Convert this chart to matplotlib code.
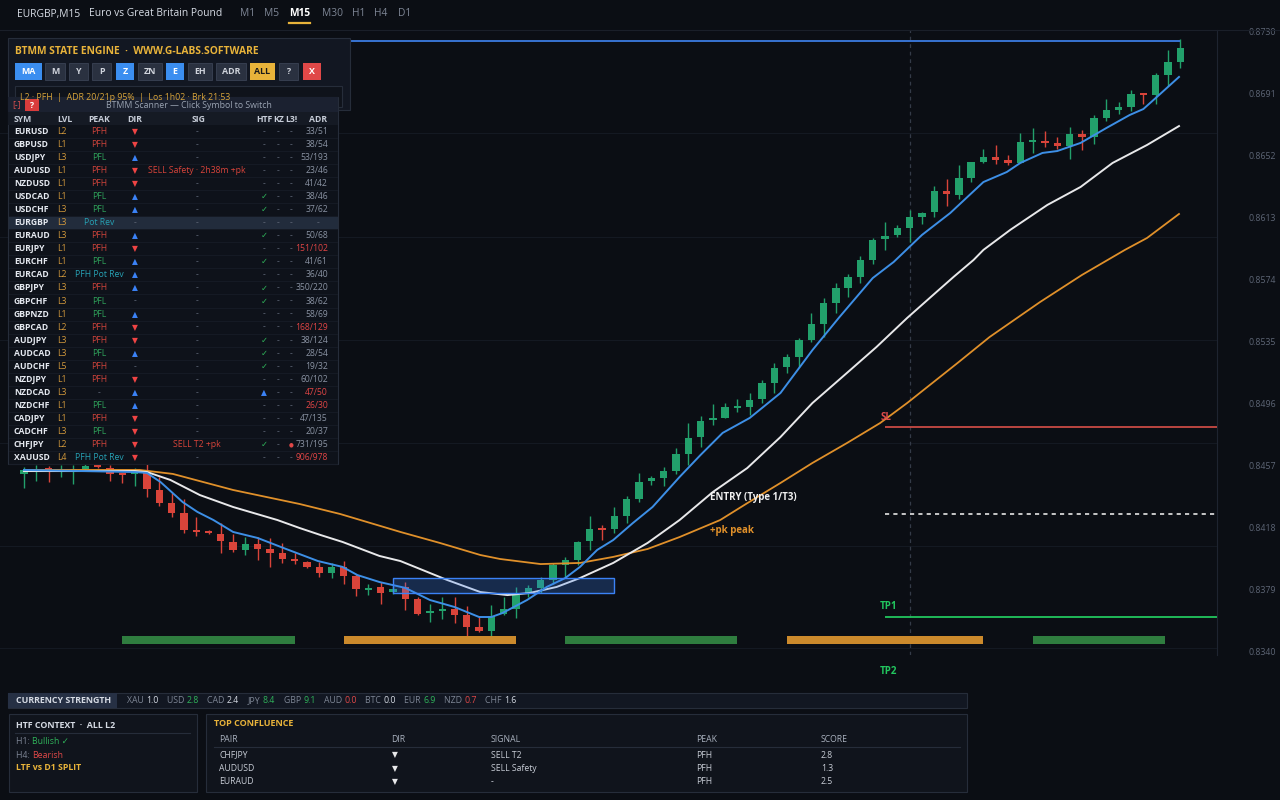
import matplotlib.pyplot as plt
from matplotlib.patches import Rectangle

plt.rcParams['font.family'] = ['Open Sans', 'DejaVu Sans']

# ---- price data (EURGBP M15), one value per candle ----
opens = [0.84514, 0.84532, 0.84551, 0.84526, 0.84532, 0.84545, 0.84564, 0.84551, 0.84514, 0.84514,
         0.84520, 0.84413, 0.84331, 0.84268, 0.84161, 0.84155, 0.84136, 0.84086, 0.84036, 0.84073,
         0.84042, 0.84017, 0.83979, 0.83960, 0.83929, 0.83891, 0.83929, 0.83872, 0.83784, 0.83803,
         0.83771, 0.83803, 0.83727, 0.83639, 0.83652, 0.83664, 0.83627, 0.83551, 0.83526, 0.83633,
         0.83664, 0.83765, 0.83797, 0.83847, 0.83941, 0.83973, 0.84092, 0.84168, 0.84168, 0.84249,
         0.84356, 0.84470, 0.84488, 0.84532, 0.84639, 0.84746, 0.84853, 0.84866, 0.84929, 0.84935,
         0.84985, 0.85086, 0.85187, 0.85250, 0.85356, 0.85457, 0.85589, 0.85684, 0.85753, 0.85860,
         0.85992, 0.86017, 0.86061, 0.86130, 0.86162, 0.86294, 0.86268, 0.86375, 0.86476, 0.86508,
         0.86489, 0.86470, 0.86602, 0.86608, 0.86596, 0.86577, 0.86652, 0.86633, 0.86753, 0.86803,
         0.86822, 0.86910, 0.86897, 0.87023, 0.87105]
highs = [0.84558, 0.84570, 0.84564, 0.84570, 0.84570, 0.84576, 0.84576, 0.84570, 0.84520, 0.84551,
         0.84583, 0.84495, 0.84394, 0.84356, 0.84243, 0.84161, 0.84205, 0.84136, 0.84117, 0.84117,
         0.84111, 0.84080, 0.84017, 0.83966, 0.83960, 0.83954, 0.83966, 0.83885, 0.83822, 0.83834,
         0.83809, 0.83834, 0.83740, 0.83696, 0.83740, 0.83740, 0.83683, 0.83620, 0.83690, 0.83740,
         0.83803, 0.83815, 0.83866, 0.83954, 0.83992, 0.84092, 0.84249, 0.84193, 0.84306, 0.84375,
         0.84520, 0.84501, 0.84558, 0.84677, 0.84834, 0.84878, 0.84954, 0.84960, 0.84985, 0.85023,
         0.85105, 0.85212, 0.85268, 0.85369, 0.85526, 0.85621, 0.85715, 0.85772, 0.85885, 0.85998,
         0.86099, 0.86080, 0.86174, 0.86162, 0.86325, 0.86369, 0.86457, 0.86476, 0.86558, 0.86583,
         0.86520, 0.86658, 0.86690, 0.86671, 0.86633, 0.86696, 0.86677, 0.86772, 0.86872, 0.86853,
         0.86929, 0.86910, 0.87036, 0.87181, 0.87250]
lows = [0.84426, 0.84470, 0.84463, 0.84495, 0.84451, 0.84539, 0.84551, 0.84470, 0.84457, 0.84438,
        0.84369, 0.84312, 0.84243, 0.84142, 0.84124, 0.84136, 0.84017, 0.84023, 0.84004, 0.83973,
        0.83929, 0.83954, 0.83947, 0.83922, 0.83866, 0.83859, 0.83822, 0.83746, 0.83752, 0.83696,
        0.83759, 0.83658, 0.83627, 0.83583, 0.83601, 0.83576, 0.83469, 0.83520, 0.83488, 0.83627,
        0.83608, 0.83740, 0.83765, 0.83822, 0.83866, 0.83941, 0.84036, 0.84098, 0.84142, 0.84205,
        0.84337, 0.84444, 0.84438, 0.84514, 0.84570, 0.84683, 0.84822, 0.84866, 0.84904, 0.84885,
        0.84960, 0.85023, 0.85149, 0.85187, 0.85344, 0.85375, 0.85526, 0.85627, 0.85715, 0.85834,
        0.85923, 0.86004, 0.85973, 0.86086, 0.86130, 0.86199, 0.86243, 0.86350, 0.86470, 0.86463,
        0.86457, 0.86470, 0.86533, 0.86570, 0.86558, 0.86495, 0.86552, 0.86589, 0.86734, 0.86778,
        0.86797, 0.86841, 0.86841, 0.86954, 0.87067]
closes = [0.84539, 0.84539, 0.84526, 0.84539, 0.84539, 0.84564, 0.84558, 0.84514, 0.84507, 0.84526,
          0.84419, 0.84331, 0.84268, 0.84161, 0.84149, 0.84142, 0.84092, 0.84036, 0.84073, 0.84042,
          0.84017, 0.83979, 0.83966, 0.83929, 0.83891, 0.83929, 0.83872, 0.83790, 0.83790, 0.83765,
          0.83790, 0.83727, 0.83633, 0.83652, 0.83664, 0.83627, 0.83551, 0.83526, 0.83620, 0.83664,
          0.83752, 0.83797, 0.83847, 0.83941, 0.83973, 0.84086, 0.84168, 0.84161, 0.84249, 0.84356,
          0.84463, 0.84488, 0.84532, 0.84639, 0.84740, 0.84847, 0.84866, 0.84935, 0.84941, 0.84979,
          0.85086, 0.85180, 0.85250, 0.85356, 0.85457, 0.85589, 0.85684, 0.85753, 0.85860, 0.85985,
          0.86011, 0.86061, 0.86130, 0.86155, 0.86294, 0.86275, 0.86375, 0.86476, 0.86508, 0.86489,
          0.86470, 0.86602, 0.86608, 0.86596, 0.86577, 0.86652, 0.86633, 0.86753, 0.86803, 0.86822,
          0.86904, 0.86897, 0.87023, 0.87105, 0.87193]

# moving averages (bar index, price)
fast_idx = [0, 9, 10, 11.1, 12, 12.9, 14.1, 15.4, 17, 19, 21.1, 23.9, 25.9, 27.1, 28.9, 31, 33, 35,
            37, 38, 38.9, 40.9, 42.5, 44, 45.2, 46.6, 47.9, 49.5, 51.1, 53.3, 55, 56.8, 59,
            61.5, 64.1, 66.3, 69, 70.7, 73, 75.3, 78, 79.9, 81, 82.8, 84, 85.9, 88, 89.9, 91, 92.1, 93.9]
fast_ma = [0.84539, 0.84526, 0.84520, 0.84463, 0.84400, 0.84337, 0.84275, 0.84224, 0.84149, 0.84111,
           0.84048, 0.83966, 0.83929, 0.83878, 0.83834, 0.83797, 0.83721, 0.83677, 0.83614, 0.83614,
           0.83639, 0.83721, 0.83803, 0.83859, 0.83929, 0.84036, 0.84098, 0.84205, 0.84306, 0.84495,
           0.84633, 0.84772, 0.84866, 0.85023, 0.85293, 0.85501, 0.85746, 0.85847, 0.86017,
           0.86155, 0.86350, 0.86413, 0.86470, 0.86533, 0.86545, 0.86596, 0.86690, 0.86772, 0.86809,
           0.86885, 0.87011]
mid_idx = [0, 9, 10, 11.9, 14.3, 17, 20.6, 22.4, 24.1, 25.9, 28.9, 30.6, 32.2, 34.4, 37.1, 39.3,
           41.1, 43.3, 45.2, 47.9, 50.7, 53.3, 56, 58.8, 61.5, 64.1, 66.9, 69.3, 71.8, 73.9, 75.6,
           77.2, 78, 80.2, 83.2, 85.9, 88.5, 91.3, 93.9]
mid_ma = [0.84532, 0.84532, 0.84526, 0.84476, 0.84381, 0.84306, 0.84224, 0.84174, 0.84130, 0.84086,
          0.83998, 0.83966, 0.83916, 0.83847, 0.83771, 0.83752, 0.83765, 0.83803, 0.83859, 0.83954,
          0.84080, 0.84224, 0.84400, 0.84551, 0.84746, 0.84960, 0.85149, 0.85312, 0.85495, 0.85639,
          0.85755, 0.85860, 0.85923, 0.86050, 0.86206, 0.86319, 0.86470, 0.86583, 0.86702]
slow_idx = [0, 9.4, 12.1, 17, 22.4, 25.7, 30.6, 33.8, 37.1, 38.7, 42, 45.2, 47.9, 50.7, 53.3, 56.6,
            58.8, 61.5, 64.1, 66.9, 69.6, 71.8, 75.9, 78.5, 82.6, 86, 89.5, 91.3, 93.9]
slow_ma = [0.84539, 0.84539, 0.84514, 0.84413, 0.84325, 0.84262, 0.84149, 0.84080, 0.84004, 0.83979,
           0.83947, 0.83954, 0.83992, 0.84042, 0.84117, 0.84224, 0.84330, 0.84457, 0.84583, 0.84708,
           0.84834, 0.84960, 0.85212, 0.85375, 0.85595, 0.85765, 0.85923, 0.85998, 0.86149]

price_ticks = [0.8730, 0.8691, 0.8652, 0.8613, 0.8574, 0.8535, 0.8496, 0.8457, 0.8418, 0.8379, 0.8340]
grid_levels = [0.86658, 0.86004, 0.85356, 0.84709, 0.84061, 0.83419]

range_high = 0.87237
sl_level = 0.84809
entry_level = 0.84262
tp1_level = 0.83614
tp2_level = 0.83274
zone_start, zone_end = 30, 48
zone_low, zone_high = 0.83765, 0.83859
sessions = [(8, 22, 'ny'), (26, 40, 'asia'), (44, 58, 'ny'), (62, 78, 'asia'), (82, 92.8, 'ny')]
session_low, session_high = 0.83444, 0.83495
marker_bar = 72

# scanner table
scan_sym = ['EURUSD', 'GBPUSD', 'USDJPY', 'AUDUSD', 'NZDUSD', 'USDCAD', 'USDCHF', 'EURGBP', 'EURAUD',
            'EURJPY', 'EURCHF', 'EURCAD', 'GBPJPY', 'GBPCHF', 'GBPNZD', 'GBPCAD', 'AUDJPY', 'AUDCAD',
            'AUDCHF', 'NZDJPY', 'NZDCAD', 'NZDCHF', 'CADJPY', 'CADCHF', 'CHFJPY', 'XAUUSD']
scan_lvl = ['L2', 'L1', 'L3', 'L1', 'L1', 'L1', 'L3', 'L3', 'L3', 'L1', 'L1', 'L2', 'L3', 'L3', 'L1',
            'L2', 'L3', 'L3', 'L5', 'L1', 'L3', 'L1', 'L1', 'L3', 'L2', 'L4']
scan_peak = ['PFH', 'PFH', 'PFL', 'PFH', 'PFH', 'PFL', 'PFL', 'Pot Rev', 'PFH', 'PFH', 'PFL',
             'PFH Pot Rev', 'PFH', 'PFL', 'PFL', 'PFH', 'PFH', 'PFL', 'PFH', 'PFH', '-', 'PFL', 'PFH',
             'PFL', 'PFH', 'PFH Pot Rev']
scan_dir = ['dn', 'dn', 'up', 'dn', 'dn', 'up', 'up', '-', 'up', 'dn', 'up', 'up', 'up', '-', 'up',
            'dn', 'dn', 'up', '-', 'dn', 'up', 'up', 'dn', 'dn', 'dn', 'dn']
scan_sig = ['-', '-', '-', 'SELL Safety · 2h38m +pk', '-', '-', '-', '-', '-', '-', '-', '-', '-',
            '-', '-', '-', '-', '-', '-', '-', '-', '-', '-', '-', 'SELL T2 +pk', '-']
scan_htf = ['-', '-', '-', '-', '-', 'ok', 'ok', '-', 'ok', '-', 'ok', '-', 'ok', 'ok', '-', '-', 'ok',
            'ok', 'ok', '-', 'up', '-', '-', '-', 'ok', '-']
scan_l3 = ['-'] * 24 + ['dot', '-']
scan_adr = ['33/51', '38/54', '53/193', '23/46', '41/42', '38/46', '37/62', '-', '50/68', '151/102',
            '41/61', '36/40', '350/220', '38/62', '58/69', '168/129', '38/124', '28/54', '19/32',
            '60/102', '47/50', '26/30', '47/135', '20/37', '731/195', '906/978']
scan_adr_over = [False, False, False, False, False, False, False, False, False, True, False, False,
                 False, False, False, True, False, False, False, False, True, True, False, False,
                 False, True]
current_sym = 'EURGBP'

cs_names = ['XAU', 'USD', 'CAD', 'JPY', 'GBP', 'AUD', 'BTC', 'EUR', 'NZD', 'CHF']
cs_values = ['1.0', '2.8', '2.4', '8.4', '9.1', '0.0', '0.0', '6.9', '0.7', '1.6']
cs_trend = ['flat', 'up', 'flat', 'up', 'up', 'down', 'flat', 'up', 'down', 'flat']

conf_pair = ['CHFJPY', 'AUDUSD', 'EURAUD']
conf_dir = ['▼', '▼', '▼']
conf_signal = ['SELL T2', 'SELL Safety', '-']
conf_peak = ['PFH', 'PFH', 'PFH']
conf_score = ['2.8', '1.3', '2.5']

timeframes = ['M1', 'M5', 'M15', 'M30', 'H1', 'H4', 'D1']
buttons = ['MA', 'M', 'Y', 'P', 'Z', 'ZN', 'E', 'EH', 'ADR', 'ALL', '?', 'X']
button_state = ['on', 'off', 'off', 'off', 'on', 'off', 'on', 'off', 'off', 'all', 'off', 'close']

# ---- colours ----
BG = '#0b0e14'
EDGE = '#262d3a'
GREEN = '#22a06b'
RED = '#d9443a'
BLUE = '#3d8fe6'
GOLD = '#e8b33a'

fig = plt.figure(figsize=(12.8, 8), dpi=100, facecolor=BG)
ax = fig.add_axes([0, 145 / 800, 1217 / 1280, 625 / 800])
ax.set_facecolor(BG)
ax.set_xlim(-1.951, 96.99)
ax.set_ylim(0.83375, 0.873063)

for g in grid_levels:
    ax.axhline(g, color='#141922', lw=0.8, zorder=0)

# candles
idx = list(range(len(opens)))
cols = [GREEN if c >= o else RED for o, c in zip(opens, closes)]
ax.vlines(idx, lows, highs, colors=cols, lw=1.0, zorder=2)
bottoms = [min(o, c) for o, c in zip(opens, closes)]
heights = [max(abs(c - o), 0.00011) for o, c in zip(opens, closes)]
ax.bar(idx, heights, bottom=bottoms, width=0.6, color=cols, zorder=2)

# moving averages
ax.plot(slow_idx, slow_ma, color='#e0902a', lw=1.3, zorder=3, solid_joinstyle='round')
ax.plot(mid_idx, mid_ma, color='#e8e8ea', lw=1.4, zorder=3, solid_joinstyle='round')
ax.plot(fast_idx, fast_ma, color=BLUE, lw=1.4, zorder=3, solid_joinstyle='round')

# zone box
ax.add_patch(Rectangle((zone_start, zone_low), zone_end - zone_start, zone_high - zone_low,
                       facecolor=(0.23, 0.51, 0.96, 0.25), edgecolor='#3b82f6', lw=1.0, zorder=4))

# session strips
sess_col = {'ny': '#2f7d3f', 'asia': '#cc8a2c'}
for a, b, kind in sessions:
    ax.broken_barh([(a, b - a)], (session_low, session_high - session_low),
                   facecolors=sess_col[kind], zorder=2)

# levels
ax.hlines(range_high, 26.5, 94, color='#3b7be0', lw=1.3, zorder=3)
ax.axvline(marker_bar, color='#343b48', lw=0.9, ls=(0, (3, 3)), zorder=1)
ax.hlines(sl_level, 70, 97, color='#c94a44', lw=1.3, zorder=3)
ax.hlines(entry_level, 70, 97, color='#e6e6e6', lw=1.2, ls=(0, (2.5, 2.5)), zorder=3)
ax.hlines(tp1_level, 70, 97, color='#22c55e', lw=1.3, zorder=3)
ax.text(69.6, sl_level + 0.00063, 'SL', color='#e04b4b', fontsize=7, fontweight='bold',
        va='center', zorder=6)
ax.text(69.6, tp1_level + 0.00063, 'TP1', color='#22c55e', fontsize=7, fontweight='bold',
        va='center', zorder=6)
ax.text(69.6, tp2_level, 'TP2', color='#22c55e', fontsize=7, fontweight='bold', va='center',
        clip_on=False)
ax.text(55.8, 0.84363, 'ENTRY (Type 1/T3)', color='#f0f0f0', fontsize=7, fontweight='bold',
        va='center', zorder=6)
ax.text(55.8, 0.84161, '+pk peak', color='#e0902a', fontsize=7, fontweight='bold', va='center',
        zorder=6)

# price axis on the right
ax.yaxis.tick_right()
ax.set_yticks(price_ticks)
ax.set_yticklabels([f'{p:.4f}' for p in price_ticks])
ax.tick_params(axis='y', length=0, pad=23, labelsize=6.3, labelcolor='#5d6575')
ax.set_xticks([])
for s in ['top', 'left', 'bottom']:
    ax.spines[s].set_visible(False)
ax.spines['right'].set_color('#1e2430')

# ---- overlay panels in pixel coordinates ----
ov = fig.add_axes([0, 0, 1, 1])
ov.set_zorder(5)
ov.patch.set_visible(False)
ov.set_xlim(0, 1280)
ov.set_ylim(800, 0)
ov.axis('off')
rend = fig.canvas.get_renderer()


def box(x0, y0, x1, y1, fc, ec='none', lw=0.8):
    ov.add_patch(Rectangle((x0, y0), x1 - x0, y1 - y0, facecolor=fc, edgecolor=ec, lw=lw))


def txt(x, y, s, color, size=6, weight='normal', ha='left', **kw):
    return ov.text(x, y, s, color=color, fontsize=size, fontweight=weight, ha=ha, va='center', **kw)


def run(x, y, parts, size):
    for s, color, weight in parts:
        t = txt(x, y, s, color, size, weight)
        x += t.get_window_extent(rend).width
    return x


# top header
ov.plot([0, 1280], [30, 30], color='#1a1f29', lw=0.8)
txt(17, 14, 'EURGBP,M15', '#d8dde6', 7.4)
txt(89, 14, 'Euro vs Great Britain Pound', '#d8dde6', 7.4)
tf_x = [240, 264, 289, 322, 352, 374, 398]
for x, tf in zip(tf_x, timeframes):
    active = tf == 'M15'
    t = txt(x, 14, tf, '#ffffff' if active else '#7d8594', 7.4, 'bold' if active else 'normal')
    if active:
        w = t.get_window_extent(rend).width
        ov.plot([x, x + w], [23, 23], color=GOLD, lw=1.6)

# state engine panel
box(8, 38, 350, 110, '#121722', EDGE)
txt(15, 51, 'BTMM STATE ENGINE  ·  WWW.G-LABS.SOFTWARE', GOLD, 7.4, 'bold')
btn_x = [(15, 42), (45, 65), (69, 88), (92, 111), (116, 134), (138, 162), (166, 184), (188, 212),
         (216, 246), (250, 275), (279, 298), (303, 321)]
btn_fc = {'on': '#3b8ef0', 'off': '#2a3140', 'all': '#e8b33a', 'close': '#e04848'}
btn_tc = {'on': '#ffffff', 'off': '#d0d4dc', 'all': '#1a1a1a', 'close': '#ffffff'}
for (x0, x1), lab, st in zip(btn_x, buttons, button_state):
    box(x0, 63, x1, 80, btn_fc[st], '#3a4254' if st == 'off' else 'none', 0.6)
    txt((x0 + x1) / 2, 71.5, lab, btn_tc[st], 6.4, 'bold', ha='center')
box(15, 86, 342, 107, '#0f131b', EDGE)
txt(20, 97, 'L2 · PFH  |  ADR 20/21p 95%  |  Los 1h02 · Brk 21:53', '#d9a53a', 6.3)

# scanner
SZ = 6.2
box(8, 97, 338, 464, '#0e121a', EDGE)
box(8.4, 97.4, 337.6, 112, '#1b2130')
txt(12, 105, '[-]', '#e05050', SZ)
box(25, 98.5, 39, 111, '#d93c3c')
txt(32, 105, '?', '#ffffff', SZ, 'bold', ha='center')
txt(189, 105, 'BTMM Scanner — Click Symbol to Switch', '#9aa3b2', 6.3, ha='center')
box(8.4, 112, 337.6, 125, '#151a24')
hy = 119
HEAD = '#c7cdd8'
txt(14, hy, 'SYM', HEAD, SZ, 'bold')
txt(57, hy, 'LVL', HEAD, SZ, 'bold')
txt(99, hy, 'PEAK', HEAD, SZ, 'bold', ha='center')
txt(135, hy, 'DIR', HEAD, SZ, 'bold', ha='center')
txt(199, hy, 'SIG', HEAD, SZ, 'bold', ha='center')
txt(264, hy, 'HTF', HEAD, SZ, 'bold', ha='center')
txt(278.5, hy, 'KZ', HEAD, SZ, 'bold', ha='center')
txt(291, hy, 'L3!', HEAD, SZ, 'bold', ha='center')
txt(318, hy, 'ADR', HEAD, SZ, 'bold', ha='center')

peak_col = {'PFH': '#d0443b', 'PFL': '#2fa35a', 'Pot Rev': '#27a2b5', 'PFH Pot Rev': '#27a2b5',
            '-': '#5d6575'}
DASH = '#5d6575'
for k, sym in enumerate(scan_sym):
    y = 131.5 + 13.04 * k
    if sym == current_sym:
        box(8.5, y - 6.2, 337.5, y + 6.2, '#222c3c')
    ov.plot([9, 337], [y + 6.5, y + 6.5], color='#171c26', lw=0.6)
    txt(14, y, sym, '#e5e9f0', SZ, 'bold')
    txt(57, y, scan_lvl[k], '#d49a3c', SZ)
    txt(99, y, scan_peak[k], peak_col[scan_peak[k]], SZ, ha='center')
    d = scan_dir[k]
    if d == 'dn':
        txt(135, y, '▼', '#ef4444', 5.5, ha='center', family='DejaVu Sans')
    elif d == 'up':
        txt(135, y, '▲', '#3b82f6', 5.5, ha='center', family='DejaVu Sans')
    else:
        txt(135, y, '-', DASH, SZ, ha='center')
    sig = scan_sig[k]
    txt(197, y, sig, '#d9443a' if sig != '-' else DASH, SZ, ha='center')
    h = scan_htf[k]
    if h == 'ok':
        txt(264, y, '✓', '#2fb35a', 6, ha='center', family='DejaVu Sans')
    elif h == 'up':
        txt(264, y, '▲', '#3b82f6', 5.5, ha='center', family='DejaVu Sans')
    else:
        txt(264, y, '-', DASH, SZ, ha='center')
    txt(278.5, y, '-', DASH, SZ, ha='center')
    if scan_l3[k] == 'dot':
        txt(291, y, '●', '#e04848', 4, ha='center', family='DejaVu Sans')
    else:
        txt(291, y, '-', DASH, SZ, ha='center')
    if scan_adr[k] == '-':
        txt(318, y, '-', DASH, SZ, ha='center')
    else:
        txt(328, y, scan_adr[k], '#e04545' if scan_adr_over[k] else '#8a93a3', SZ, ha='right')

# currency strength strip
box(8, 693, 967, 708, '#121722', EDGE)
box(8.4, 693.4, 117, 707.6, '#263044')
txt(16, 700.5, 'CURRENCY STRENGTH', '#d5dae3', 6.4, 'bold')
trend_col = {'up': '#2fb35a', 'down': '#e04848', 'flat': '#d5dae3'}
x = 127
for name, val, tr in zip(cs_names, cs_values, cs_trend):
    x = run(x, 700.5, [(name + ' ', '#7d8594', 'normal'), (val, trend_col[tr], 'normal')], 6.3)
    x += 8.5

# HTF context
box(9, 714, 197, 792, '#10141c', EDGE)
txt(16, 725, 'HTF CONTEXT  ·  ALL L2', '#d5dae3', 6.4, 'bold')
ov.plot([15, 190], [733, 733], color=EDGE, lw=0.8)
run(16, 742, [('H1: ', '#7d8594', 'normal'), ('Bullish ✓', '#2fb35a', 'normal')], 6.3)
run(16, 755, [('H4: ', '#7d8594', 'normal'), ('Bearish', '#e04848', 'normal')], 6.3)
txt(16, 768, 'LTF vs D1 SPLIT', GOLD, 6.3, 'bold')

# top confluence
box(206, 714, 967, 792, '#10141c', EDGE)
txt(214, 724, 'TOP CONFLUENCE', GOLD, 6.5, 'bold')
col_x = [219, 391, 491, 696, 821]
for cx, head in zip(col_x, ['PAIR', 'DIR', 'SIGNAL', 'PEAK', 'SCORE']):
    txt(cx, 739, head, '#aab2bf', 6.2)
ov.plot([214, 960], [747, 747], color=EDGE, lw=0.8)
for r in range(len(conf_pair)):
    y = 755 + 13.5 * r
    txt(col_x[0], y, conf_pair[r], '#c8cdd6', 6.2)
    txt(col_x[1] + 1, y, conf_dir[r], '#e8e8ea', 5.5, family='DejaVu Sans')
    txt(col_x[2], y, conf_signal[r], '#c8cdd6', 6.2)
    txt(col_x[3], y, conf_peak[r], '#c8cdd6', 6.2)
    txt(col_x[4], y, conf_score[r], '#c8cdd6', 6.2)

fig.savefig('out.png', dpi=100, facecolor=BG)
